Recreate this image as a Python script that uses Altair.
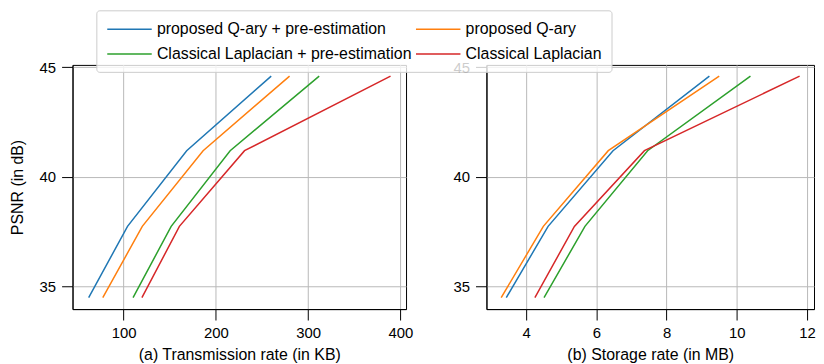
import altair as alt
import pandas as pd

series = ["proposed Q-ary + pre-estimation", "proposed Q-ary",
          "Classical Laplacian + pre-estimation", "Classical Laplacian"]
colors = ["#1f77b4", "#ff7f0e", "#2ca02c", "#d62728"]

psnr = [34.5, 37.75, 41.2, 44.6]

trans_qary_pre = [62.2, 104.3, 168.4, 260.0]
trans_qary = [77.5, 120.3, 186.2, 279.9]
trans_lap_pre = [110.3, 151.6, 215.5, 312.0]
trans_lap = [119.9, 160.5, 231.1, 389.3]

stor_qary_pre = [3.435, 4.626, 6.475, 9.22]
stor_qary = [3.29, 4.49, 6.34, 9.50]
stor_lap_pre = [4.51, 5.675, 7.46, 10.39]
stor_lap = [4.25, 5.375, 7.37, 11.79]

trans_ticks = [100, 200, 300, 400]
stor_ticks = [4, 6, 8, 10, 12]
psnr_ticks = [35, 40, 45]


def build(rates):
    rows = []
    for name, vals in zip(series, rates):
        for i, (r, p) in enumerate(zip(vals, psnr)):
            rows.append({"series": name, "rate": r, "psnr": p, "idx": i})
    return pd.DataFrame(rows)


df_left = build([trans_qary_pre, trans_qary, trans_lap_pre, trans_lap])
df_right = build([stor_qary_pre, stor_qary, stor_lap_pre, stor_lap])

FONT = "Liberation Sans"

color = alt.Color(
    "series:N",
    sort=series,
    scale=alt.Scale(domain=series, range=colors),
    legend=alt.Legend(
        title=None, orient="none", legendX=24, legendY=-55, columns=2,
        direction="horizontal",
        symbolType="M-1,0L4.6,0", symbolSize=256, symbolStrokeWidth=1.5,
        symbolFillColor="transparent",
        labelFont=FONT, labelFontSize=16, labelColor="black", labelLimit=0,
        labelOffset=33, padding=10, rowPadding=8, columnPadding=1,
        fillColor="rgba(255,255,255,0.8)", strokeColor="#cccccc",
        cornerRadius=3,
    ),
)

ydom = [33.98, 45.11]

left = alt.Chart(df_left).mark_line(strokeWidth=1.5).encode(
    x=alt.X("rate:Q", scale=alt.Scale(domain=[44.7, 406.1], nice=False, zero=False),
            axis=alt.Axis(values=trans_ticks, title="(a) Transmission rate (in KB)")),
    y=alt.Y("psnr:Q", scale=alt.Scale(domain=ydom, nice=False, zero=False),
            axis=alt.Axis(values=psnr_ticks, title="PSNR (in dB)", titlePadding=14)),
    color=color,
    order="idx:Q",
).properties(width=336, height=246)

right = alt.Chart(df_right).mark_line(strokeWidth=1.5).encode(
    x=alt.X("rate:Q", scale=alt.Scale(domain=[2.87, 12.2], nice=False, zero=False),
            axis=alt.Axis(values=stor_ticks, title="(b) Storage rate (in MB)")),
    y=alt.Y("psnr:Q", scale=alt.Scale(domain=ydom, nice=False, zero=False),
            axis=alt.Axis(values=psnr_ticks, title=None)),
    color=color,
    order="idx:Q",
).properties(width=330, height=246)

chart = alt.hconcat(left, right, spacing=38).resolve_scale(
    x="independent", y="independent"
).properties(
    padding={"left": 0, "top": 0, "right": 0, "bottom": 0}
).configure_view(
    stroke="black", strokeWidth=1
).configure_axis(
    labelFont=FONT, labelFontSize=15, labelColor="black", labelPadding=6,
    titleFont=FONT, titleFontSize=16, titleFontWeight="normal", titleColor="black",
    titlePadding=6, tickSize=11, tickColor="black", tickWidth=1,
    domainColor="black", domainWidth=1, gridColor="#b8b8b8", gridWidth=1,
)

chart.save("out.html", embed_options={"renderer": "svg", "actions": False})
